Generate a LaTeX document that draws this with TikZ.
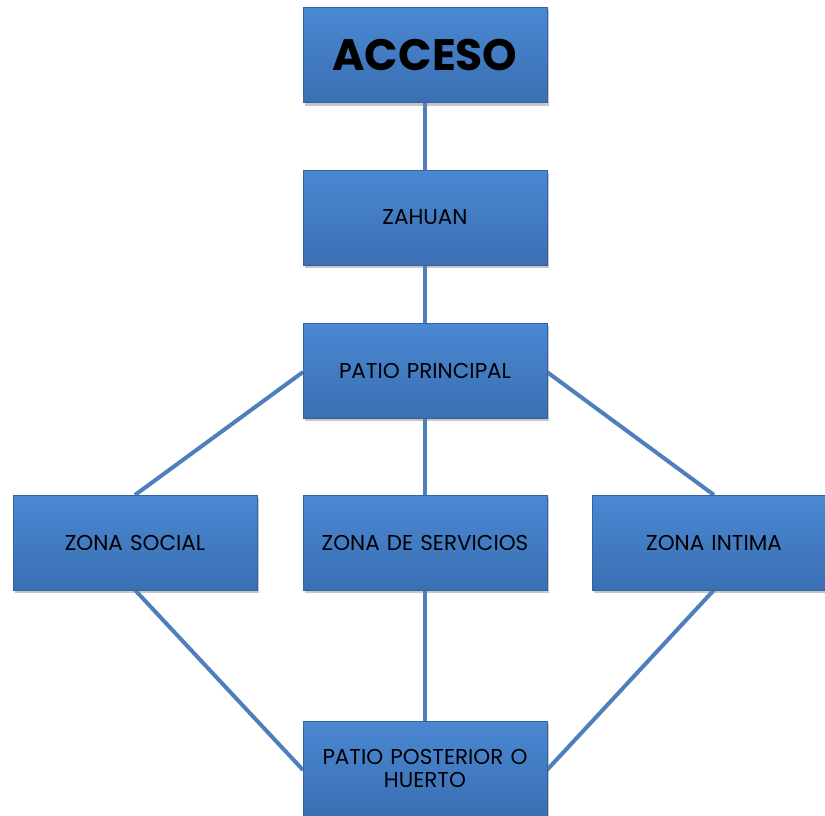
\documentclass[tikz,border=0pt]{standalone}
\usepackage{fontspec}
\setmainfont{Poppins}
\usetikzlibrary{shadows}
\definecolor{boxtop}{HTML}{4A88D2}
\definecolor{boxbot}{HTML}{3A6FB3}
\definecolor{boxedge}{HTML}{3563A0}
\definecolor{linkc}{HTML}{4E7EBC}
\tikzset{
  block/.style={rectangle, minimum width=244pt, minimum height=95pt, inner sep=4pt,
    top color=boxtop, bottom color=boxbot, draw=boxedge, line width=0.8pt,
    drop shadow={shadow xshift=2pt, shadow yshift=-3pt, opacity=0.45},
    text width=236pt, align=center, font=\fontsize{21.5}{23}\selectfont},
  link/.style={draw=linkc, line width=4pt},
}
\begin{document}
\begin{tikzpicture}[x=1pt,y=-1pt]
\useasboundingbox (0,0) rectangle (825,816);
\path[link] (425,102) -- (425,170);
\path[link] (425,265) -- (425,323);
\path[link] (425,418) -- (425,495);
\path[link] (425,590) -- (425,721);
\path[link] (303,372) -- (135,495);
\path[link] (547,372) -- (714,495);
\path[link] (135,590) -- (303,770);
\path[link] (714,590) -- (547,770);
\node[block, font=\fontsize{44}{46}\selectfont\bfseries] (acceso) at (425,55) {ACCESO};
\node[block] (zahuan) at (425,217.5) {ZAHUAN};
\node[block] (pp) at (425,370.5) {PATIO PRINCIPAL};
\node[block] (zs) at (135,542.5) {ZONA SOCIAL};
\node[block] (zds) at (425,542.5) {ZONA DE SERVICIOS};
\node[block] (zi) at (714,542.5) {ZONA INTIMA};
\node[block] (ppo) at (425,768.5) {PATIO POSTERIOR O\\HUERTO};
\end{tikzpicture}
\end{document}
